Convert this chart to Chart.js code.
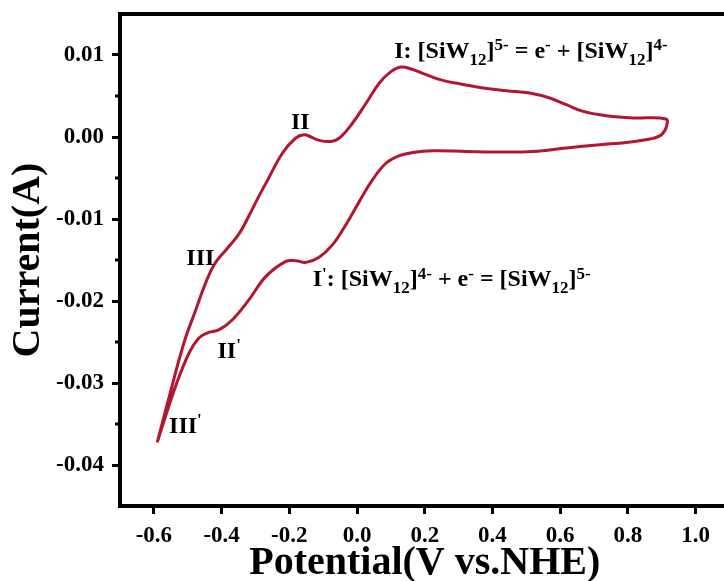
<!DOCTYPE html>
<html>
<head>
<meta charset="utf-8">
<script src="https://cdn.jsdelivr.net/npm/chart.js@4.4.1/dist/chart.umd.min.js"></script>
<style>
  html, body { margin: 0; padding: 0; background: #fff; overflow: hidden; }
  #wrap { position: absolute; left: 0; top: 0; width: 740px; height: 581px; }
</style>
</head>
<body>
<div id="wrap"><canvas id="cv"></canvas></div>
<script>
// Cyclic voltammogram of SiW12, one closed scan (V vs. NHE, current in A)
const potential = [
  -0.590, -0.561, -0.511, -0.476, -0.449, -0.422, -0.384, -0.348, -0.319, -0.292,
  -0.265, -0.220, -0.181, -0.156, -0.136, -0.112, -0.077, -0.052, -0.013, 0.027,
  0.066, 0.101, 0.130, 0.160, 0.204, 0.253, 0.303, 0.372, 0.441, 0.510,
  0.569, 0.618, 0.668, 0.737, 0.815, 0.912,
  0.914, 0.899, 0.865, 0.796, 0.717, 0.618, 0.520, 0.421, 0.323, 0.224,
  0.165, 0.125, 0.086, 0.046, 0.007, -0.033, -0.072, -0.112, -0.151, -0.181,
  -0.210, -0.269, -0.319, -0.368, -0.407, -0.442, -0.467, -0.496, -0.536, -0.575,
  -0.590
];
const current = [
  -0.03724, -0.03265, -0.02509, -0.02106, -0.01800, -0.01557, -0.01362, -0.01179, -0.00960, -0.00740,
  -0.00533, -0.00195, -0.00012, 0.00028, 0.00000, -0.00041, -0.00054, -0.00012, 0.00171, 0.00415,
  0.00659, 0.00800, 0.00854, 0.00829, 0.00760, 0.00690, 0.00650, 0.00598, 0.00565, 0.00537,
  0.00476, 0.00394, 0.00312, 0.00260, 0.00232, 0.00220,
  0.00129, 0.00028, -0.00024, -0.00066, -0.00094, -0.00134, -0.00176, -0.00183, -0.00176, -0.00167,
  -0.00188, -0.00228, -0.00317, -0.00521, -0.00785, -0.01070, -0.01313, -0.01466, -0.01529, -0.01509,
  -0.01517, -0.01700, -0.01984, -0.02228, -0.02350, -0.02390, -0.02451, -0.02634, -0.03041, -0.03529,
  -0.03724
];

const xTicks = [-0.6, -0.4, -0.2, 0.0, 0.2, 0.4, 0.6, 0.8, 1.0];
const yTicks = [-0.04, -0.03, -0.02, -0.01, 0.00, 0.01];
const yMinorTicks = [-0.035, -0.025, -0.015, -0.005, 0.005];

// peak labels: [potential, current, text pieces]
const peakLabels = [
  [0.110, 0.00963, [['I: [SiW', 'n'], ['12', 'sub'], [']', 'n'], ['5-', 'sup'], [' = e', 'n'], ['-', 'sup'],
                    [' + [SiW', 'n'], ['12', 'sub'], [']', 'n'], ['4-', 'sup']]],
  [-0.195, 0.00098, [['II', 'n']]],
  [-0.504, -0.01557, [['III', 'n']]],
  [-0.131, -0.01822, [['I', 'n'], ["'", 'sup'], [': [SiW', 'n'], ['12', 'sub'], [']', 'n'], ['4-', 'sup'], [' + e', 'n'],
                      ['-', 'sup'], [' = [SiW', 'n'], ['12', 'sub'], [']', 'n'], ['5-', 'sup']]],
  [-0.412, -0.02695, [['II', 'n'], ["'", 'sup']]],
  [-0.555, -0.03610, [['III', 'n'], ["'", 'sup']]]
];

const serif = '"Liberation Serif", "Times New Roman", serif';
const lineColor = '#b3172f';

const framePlugin = {
  id: 'frame',
  afterDraw(chart) {
    const {ctx, chartArea: a, scales} = chart;
    ctx.save();
    ctx.strokeStyle = '#000';
    ctx.lineWidth = 4;
    ctx.lineJoin = 'miter';
    ctx.strokeRect(a.left, a.top, a.right - a.left, a.bottom - a.top);

    // short minor ticks on the current axis
    ctx.lineWidth = 3;
    yMinorTicks.forEach(v => {
      const y = scales.y.getPixelForValue(v);
      ctx.beginPath();
      ctx.moveTo(a.left - 5, y);
      ctx.lineTo(a.left, y);
      ctx.stroke();
    });

    // peak assignments with sub/superscripts
    ctx.fillStyle = '#000';
    ctx.textBaseline = 'alphabetic';
    ctx.textAlign = 'left';
    const size = 24;
    peakLabels.forEach(([vx, vy, parts]) => {
      let x = scales.x.getPixelForValue(vx);
      const y = scales.y.getPixelForValue(vy);
      parts.forEach(([t, m]) => {
        const s = m === 'n' ? size : Math.round(size * 0.7);
        const dy = m === 'sub' ? size * 0.28 : (m === 'sup' ? -size * 0.32 : 0);
        ctx.font = 'bold ' + s + 'px ' + serif;
        ctx.fillText(t, x, y + dy);
        x += ctx.measureText(t).width;
      });
    });
    ctx.restore();
  }
};

new Chart(document.getElementById('cv'), {
  type: 'scatter',
  data: {
    datasets: [{
      data: potential.map((v, i) => ({x: v, y: current[i]})),
      showLine: true,
      borderColor: lineColor,
      borderWidth: 3,
      pointRadius: 0,
      tension: 0.4,
      fill: false
    }]
  },
  options: {
    responsive: true,
    maintainAspectRatio: false,
    animation: false,
    layout: { padding: { top: 14, right: 10.5, left: 0, bottom: 0 } },
    plugins: { legend: { display: false }, tooltip: { enabled: false } },
    scales: {
      x: {
        type: 'linear',
        min: -0.7,
        max: 1.1,
        afterBuildTicks: scale => { scale.ticks = xTicks.map(v => ({value: v})); },
        afterFit: scale => { scale.height = 75; scale.paddingLeft = 0; scale.paddingRight = 0; },
        border: { display: false },
        grid: { drawOnChartArea: false, drawTicks: true, tickLength: 8, tickWidth: 3, tickColor: '#000' },
        ticks: {
          padding: 8,
          color: '#000',
          font: { family: serif, size: 23, weight: 'bold' },
          callback: v => v.toFixed(1)
        },
        title: {
          display: true,
          text: 'Potential(V vs.NHE)',
          color: '#000',
          font: { family: serif, size: 40, weight: 'bold', lineHeight: 0.86 },
          padding: 0
        }
      },
      y: {
        type: 'linear',
        min: -0.045,
        max: 0.015,
        afterBuildTicks: scale => { scale.ticks = yTicks.map(v => ({value: v})); },
        afterFit: scale => { scale.width = 120; scale.paddingTop = 0; scale.paddingBottom = 0; },
        border: { display: false },
        grid: { drawOnChartArea: false, drawTicks: true, tickLength: 8, tickWidth: 3, tickColor: '#000' },
        ticks: {
          padding: 8,
          color: '#000',
          font: { family: serif, size: 23, weight: 'bold' },
          callback: v => (Math.abs(v) < 1e-9 ? 0 : v).toFixed(2)
        },
        title: {
          display: true,
          text: 'Current(A)',
          color: '#000',
          font: { family: serif, size: 40, weight: 'bold', lineHeight: 1 },
          padding: { top: 9, bottom: 0 }
        }
      }
    }
  },
  plugins: [framePlugin]
});
</script>
</body>
</html>
